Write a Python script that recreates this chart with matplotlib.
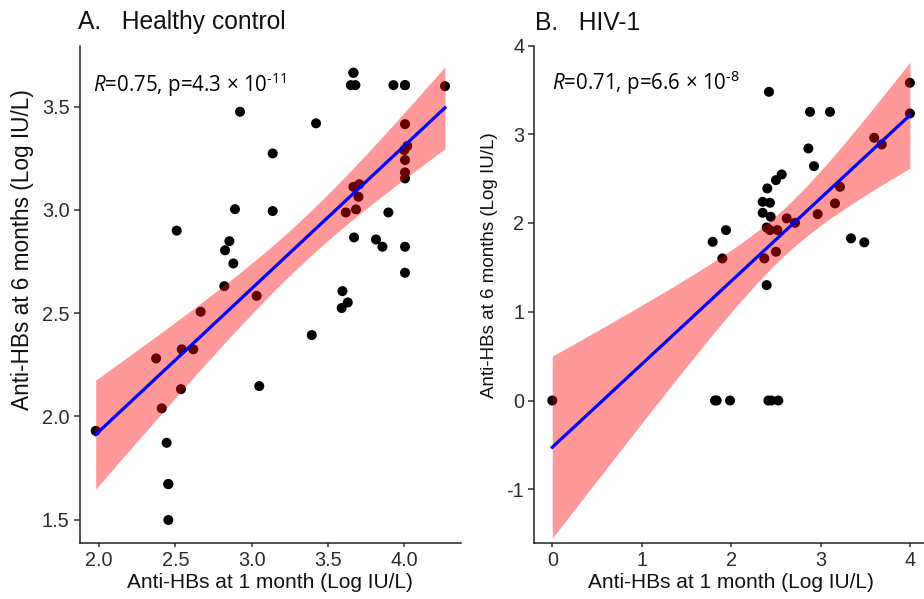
import numpy as np
import matplotlib
matplotlib.use("Agg")
import matplotlib.pyplot as plt

# ---------------- data ----------------
# Panel A: Healthy control (a few coincident points estimated where dots overlap)
hc_month1 = [3.667, 3.65, 3.68, 3.929, 4.005, 4.267, 2.924, 3.422, 3.138, 4.005,
             4.02, 4.00, 4.005, 4.005, 4.005, 3.667, 3.706, 3.70, 3.684, 3.617,
             3.896, 3.138, 2.891, 2.509, 2.854, 2.826, 2.88, 3.671, 3.815, 3.857,
             4.005, 4.005, 2.821, 3.033, 3.595, 3.63, 3.59, 2.666, 3.394, 2.374,
             2.542, 2.618, 3.05, 2.537, 2.411, 1.978, 2.443, 2.454, 2.454,
             4.005, 2.454, 3.667]
hc_month6 = [3.665, 3.605, 3.605, 3.605, 3.605, 3.60, 3.476, 3.42, 3.274, 3.416,
             3.31, 3.29, 3.242, 3.182, 3.153, 3.112, 3.125, 3.064, 3.003, 2.988,
             2.988, 2.995, 3.004, 2.90, 2.849, 2.805, 2.741, 2.867, 2.857, 2.822,
             2.822, 2.696, 2.631, 2.584, 2.607, 2.552, 2.525, 2.507, 2.394, 2.281,
             2.325, 2.325, 2.147, 2.132, 2.039, 1.93, 1.872, 1.672, 1.498,
             3.605, 1.672, 3.665]

# Panel B: HIV-1 (a few coincident points at the lower detection limit)
hiv_month1 = [4.0, 4.0, 2.424, 2.883, 3.106, 2.864, 2.927, 3.60, 3.685, 2.566,
              2.502, 2.405, 2.353, 2.435, 2.353, 2.443, 3.218, 3.162, 2.968, 2.622,
              2.715, 2.398, 2.435, 2.517, 1.943, 1.794, 1.902, 2.372, 2.502, 3.341,
              3.49, 2.398, 0.0, 1.839, 1.988, 2.417, 2.528,
              1.82, 2.45]
hiv_month6 = [3.58, 3.234, 3.478, 3.252, 3.252, 2.84, 2.641, 2.96, 2.885, 2.547,
              2.483, 2.39, 2.239, 2.228, 2.115, 2.07, 2.408, 2.221, 2.10, 2.052,
              2.002, 1.95, 1.92, 1.92, 1.92, 1.788, 1.601, 1.601, 1.676, 1.827,
              1.782, 1.30, 0.0, 0.0, 0.0, 0.0, 0.0,
              0.0, 0.0]

panel_titles = ["A.   Healthy control", "B.   HIV-1"]
stat_r = ["0.75", "0.71"]
stat_p = [("4.3", "11"), ("6.6", "8")]
x_label = "Anti-HBs at 1 month (Log IU/L)"
y_label = "Anti-HBs at 6 months (Log IU/L)"
a_xticks = [2.0, 2.5, 3.0, 3.5, 4.0]
a_yticks = [1.5, 2.0, 2.5, 3.0, 3.5]
b_xticks = [0, 1, 2, 3, 4]
b_yticks = [-1, 0, 1, 2, 3, 4]

# ---------------- style ----------------
plt.rcParams["font.family"] = ["Liberation Sans", "DejaVu Sans"]
plt.rcParams["mathtext.fontset"] = "custom"
plt.rcParams["mathtext.rm"] = "Open Sans"
plt.rcParams["mathtext.it"] = "Open Sans:italic"

W, H = 924, 599
fig = plt.figure(figsize=(W / 100, H / 100), dpi=100)


def fit_ci(x, y, grid):
    x = np.asarray(x, float)
    y = np.asarray(y, float)
    n = len(x)
    b, a = np.polyfit(x, y, 1)
    resid = y - (a + b * x)
    s = np.sqrt(np.sum(resid ** 2) / (n - 2))
    sxx = np.sum((x - x.mean()) ** 2)
    nu = n - 2
    z = 1.959964
    t = z + (z ** 3 + z) / (4 * nu) + (5 * z ** 5 + 16 * z ** 3 + 3 * z) / (96 * nu ** 2)
    fit = a + b * grid
    se = s * np.sqrt(1.0 / n + (grid - x.mean()) ** 2 / sxx)
    return fit, fit - t * se, fit + t * se


def px_rect(left, right, top, bottom):
    return [left / W, 1 - bottom / H, (right - left) / W, (bottom - top) / H]


def draw_panel(ax, x, y, xlim, ylim, xticks, yticks, fmt, r, p, ann_xy,
               ylab_size, ylab_pos):
    ax.scatter(x, y, s=52, color="black", edgecolors="none", zorder=2)
    grid = np.linspace(min(x), max(x), 200)
    fit, lo, hi = fit_ci(x, y, grid)
    ax.fill_between(grid, lo, hi, color="red", alpha=0.4, linewidth=0, zorder=3)
    ax.plot(grid, fit, color="blue", lw=2.3, zorder=4)
    ax.set_xlim(*xlim)
    ax.set_ylim(*ylim)
    ax.set_xticks(xticks)
    ax.set_yticks(yticks)
    ax.set_xticklabels([fmt.format(v) for v in xticks])
    ax.set_yticklabels([fmt.format(v) for v in yticks])
    for s in ["top", "right"]:
        ax.spines[s].set_visible(False)
    for s in ["left", "bottom"]:
        ax.spines[s].set_linewidth(1.1)
        ax.spines[s].set_color("#222222")
    ax.tick_params(direction="out", width=1.1, color="#333333",
                   labelsize=14.3, labelcolor="#2b2b2b")
    ax.tick_params(axis="x", length=3.0, pad=3)
    ax.tick_params(axis="y", length=4.3, pad=3)
    ax.set_xlabel(x_label, fontsize=15, color="#111111", labelpad=2)
    ax.set_ylabel(y_label, fontsize=ylab_size, color="#111111")
    ax.yaxis.set_label_coords(*ylab_pos)
    label = ("$\\mathit{R}$=" + r + ", p=" + p[0] + " \u00d7 10"
             + "$^{\\mathrm{\u2010" + p[1] + "}}$")
    ax.text(ann_xy[0], ann_xy[1], label,
            transform=ax.transAxes, fontsize=14.8, family="Open Sans",
            ha="left", va="center", color="black", zorder=5)


axA = fig.add_axes(px_rect(79.5, 460.7, 45.5, 542.5))
draw_panel(axA, hc_month1, hc_month6, (1.872, 4.370), (1.389, 3.797),
           a_xticks, a_yticks, "{:.1f}", stat_r[0], stat_p[0], (0.035, 0.922),
           16.3, (-0.119, 0.59))

axB = fig.add_axes(px_rect(534.3, 927.8, 45.5, 542.5))
draw_panel(axB, hiv_month1, hiv_month6, (-0.201, 4.2), (-1.60, 4.0),
           b_xticks, b_yticks, "{:g}", stat_r[1], stat_p[1], (0.046, 0.926),
           13.5, (-0.092, 0.558))

fig.text(78 / W, 1 - 29.5 / H, panel_titles[0], fontsize=17.7, va="baseline",
         ha="left", color="#111111")
fig.text(535 / W, 1 - 29.5 / H, panel_titles[1], fontsize=17.7, va="baseline",
         ha="left", color="#111111")

fig.savefig("out.png", dpi=100)
